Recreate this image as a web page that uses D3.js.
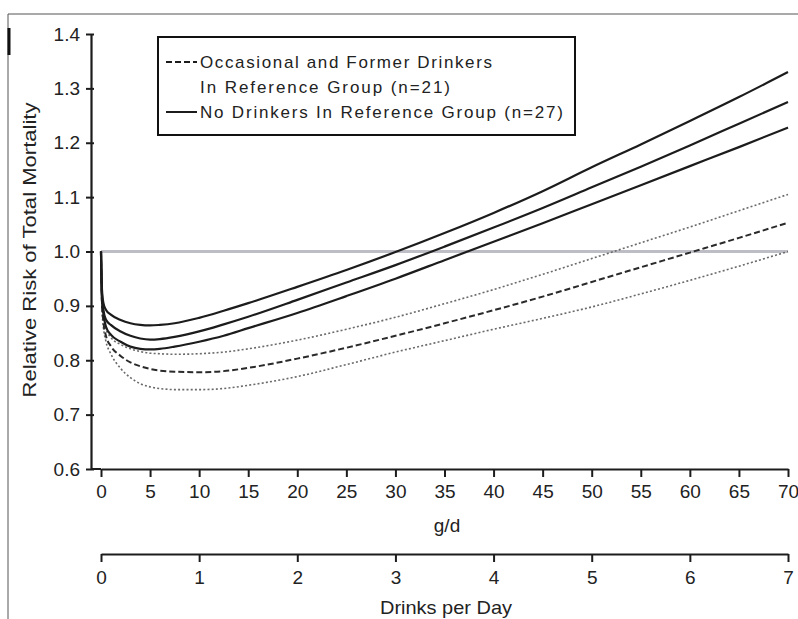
<!DOCTYPE html>
<html>
<head>
<meta charset="utf-8">
<script src="https://cdn.jsdelivr.net/npm/d3@7"></script>
<style>
  body { margin: 0; background: #fff; }
  svg { display: block; font-family: "Liberation Sans", Arial, sans-serif; }
</style>
</head>
<body>
<svg id="chart" width="798" height="619"></svg>
<script>
// alcohol dose (g/d) at which the curves were read
var doses = [0, 0.1, 0.25, 0.5, 1, 2, 3, 4, 5, 6, 7.5, 10, 12.5, 15, 20, 25, 30, 35, 40, 45, 50, 55, 60, 65, 70];

// no drinkers in reference group: estimate with upper / lower bounds
var noneUpper = [1.0, 0.93, 0.905, 0.893, 0.884, 0.874, 0.868, 0.865, 0.864, 0.865, 0.868, 0.878, 0.891, 0.905, 0.935, 0.966, 0.999, 1.034, 1.071, 1.111, 1.155, 1.197, 1.240, 1.284, 1.330];
var noneRR    = [1.0, 0.92, 0.892, 0.875, 0.865, 0.853, 0.845, 0.840, 0.838, 0.839, 0.843, 0.853, 0.866, 0.880, 0.911, 0.943, 0.975, 1.009, 1.044, 1.080, 1.118, 1.156, 1.195, 1.235, 1.275];
var noneLower = [1.0, 0.91, 0.885, 0.862, 0.847, 0.834, 0.825, 0.821, 0.820, 0.821, 0.825, 0.834, 0.845, 0.859, 0.887, 0.918, 0.950, 0.984, 1.018, 1.052, 1.087, 1.122, 1.157, 1.192, 1.228];

// occasional and former drinkers in reference group
var occUpper = [1.0, 0.91, 0.878, 0.858, 0.842, 0.829, 0.821, 0.816, 0.813, 0.812, 0.811, 0.812, 0.815, 0.821, 0.837, 0.857, 0.879, 0.904, 0.930, 0.958, 0.987, 1.016, 1.045, 1.075, 1.105];
var occRR    = [1.0, 0.905, 0.870, 0.845, 0.826, 0.808, 0.796, 0.789, 0.784, 0.781, 0.779, 0.778, 0.780, 0.786, 0.803, 0.823, 0.845, 0.868, 0.892, 0.917, 0.944, 0.971, 0.998, 1.025, 1.053];
var occLower = [1.0, 0.895, 0.860, 0.835, 0.812, 0.785, 0.768, 0.757, 0.751, 0.748, 0.746, 0.746, 0.748, 0.754, 0.770, 0.792, 0.815, 0.836, 0.857, 0.877, 0.898, 0.922, 0.947, 0.973, 1.0];

var yTicks = [0.6, 0.7, 0.8, 0.9, 1.0, 1.1, 1.2, 1.3, 1.4];
var gTicks = [0, 5, 10, 15, 20, 25, 30, 35, 40, 45, 50, 55, 60, 65, 70];
var drinkTicks = [0, 1, 2, 3, 4, 5, 6, 7];
var legendLines = ["Occasional and Former Drinkers", "In Reference Group (n=21)", "No Drinkers In Reference Group (n=27)"];

(function () {
  "use strict";
  var svg = d3.select("#chart");
  var ink = "#1c1c1c";

  var x = d3.scaleLinear().domain([0, 70]).range([101, 788]);
  var xd = d3.scaleLinear().domain([0, 7]).range([101, 788]);
  var y = d3.scaleLinear().domain([0.6, 1.4]).range([469, 34]);
  var axisX = 91;

  // scan frame
  svg.append("line").attr("x1", 8).attr("x2", 798).attr("y1", 14).attr("y2", 14)
    .attr("stroke", "#555").attr("stroke-width", 1);
  svg.append("line").attr("x1", 8).attr("x2", 8).attr("y1", 14).attr("y2", 619)
    .attr("stroke", "#555").attr("stroke-width", 1);
  svg.append("line").attr("x1", 9).attr("x2", 9).attr("y1", 28).attr("y2", 55)
    .attr("stroke", "#111").attr("stroke-width", 3);

  // reference line at RR = 1
  svg.append("line").attr("x1", x(0)).attr("x2", x(70)).attr("y1", y(1)).attr("y2", y(1))
    .attr("stroke", "#bdbdc5").attr("stroke-width", 3);

  // curves
  var series = [
    { v: occLower, stroke: "#6a6a6a", w: 1.6, dash: "2 2.2" },
    { v: occUpper, stroke: "#6a6a6a", w: 1.6, dash: "2 2.2" },
    { v: occRR, stroke: "#2a2a2a", w: 2, dash: "6 3" },
    { v: noneLower, stroke: ink, w: 2.2, dash: null },
    { v: noneRR, stroke: ink, w: 2.2, dash: null },
    { v: noneUpper, stroke: ink, w: 2.2, dash: null }
  ];
  var line = d3.line().x(function (d) { return x(d[0]); }).y(function (d) { return y(d[1]); })
    .curve(d3.curveMonotoneX);
  series.forEach(function (s) {
    svg.append("path").attr("d", line(d3.zip(doses, s.v)))
      .attr("fill", "none").attr("stroke", s.stroke).attr("stroke-width", s.w)
      .attr("stroke-dasharray", s.dash);
  });

  // y axis
  var gy = svg.append("g").attr("transform", "translate(" + axisX + ",0)")
    .call(d3.axisLeft(y).tickValues(yTicks).tickFormat(d3.format(".1f"))
      .tickSize(5).tickSizeOuter(0).tickPadding(6));
  gy.select(".domain").attr("stroke", ink).attr("stroke-width", 2.2);
  gy.selectAll(".tick line").attr("x1", 3).attr("stroke", ink).attr("stroke-width", 2);
  gy.selectAll("text").style("font-size", "19px").attr("fill", "#222").attr("font-family", null);

  svg.append("text").attr("transform", "translate(36,250) rotate(-90)")
    .attr("text-anchor", "middle").style("font-size", "19px").attr("fill", "#222")
    .attr("textLength", 295).attr("lengthAdjust", "spacingAndGlyphs")
    .text("Relative Risk of Total Mortality");

  // g/d axis
  svg.append("line").attr("x1", axisX).attr("x2", x(0)).attr("y1", y(0.6)).attr("y2", y(0.6))
    .attr("stroke", ink).attr("stroke-width", 2);
  var gx = svg.append("g").attr("transform", "translate(0," + y(0.6) + ")")
    .call(d3.axisBottom(x).tickValues(gTicks).tickFormat(d3.format("d"))
      .tickSize(8).tickSizeOuter(0).tickPadding(8));
  gx.select(".domain").attr("stroke", ink).attr("stroke-width", 2);
  gx.selectAll(".tick line").attr("stroke", ink).attr("stroke-width", 2);
  gx.selectAll("text").style("font-size", "19px").attr("fill", "#222").attr("font-family", null);
  svg.append("text").attr("x", 447).attr("y", 532).attr("text-anchor", "middle")
    .style("font-size", "19px").attr("fill", "#222").text("g/d");

  // drinks per day axis
  var gd = svg.append("g").attr("transform", "translate(0,554)")
    .call(d3.axisBottom(xd).tickValues(drinkTicks).tickFormat(d3.format("d"))
      .tickSize(8).tickSizeOuter(0).tickPadding(9));
  gd.select(".domain").attr("stroke", ink).attr("stroke-width", 2);
  gd.selectAll(".tick line").attr("stroke", ink).attr("stroke-width", 2);
  gd.selectAll("text").style("font-size", "19px").attr("fill", "#222").attr("font-family", null);
  svg.append("text").attr("x", 446).attr("y", 614).attr("text-anchor", "middle")
    .style("font-size", "19px").attr("fill", "#222")
    .attr("textLength", 132).attr("lengthAdjust", "spacingAndGlyphs")
    .text("Drinks per Day");

  // legend
  svg.append("rect").attr("x", 158).attr("y", 37).attr("width", 417).attr("height", 98)
    .attr("fill", "#fff").attr("stroke", "#111").attr("stroke-width", 2);
  svg.append("line").attr("x1", 166).attr("x2", 197).attr("y1", 62).attr("y2", 62)
    .attr("stroke", ink).attr("stroke-width", 2).attr("stroke-dasharray", "6 3");
  svg.append("line").attr("x1", 166).attr("x2", 197).attr("y1", 112).attr("y2", 112)
    .attr("stroke", ink).attr("stroke-width", 2);
  var lens = [292, 250, 363], bases = [68, 93, 118];
  legendLines.forEach(function (t, i) {
    svg.append("text").attr("x", 200).attr("y", bases[i])
      .style("font-size", "17px").attr("fill", "#222")
      .attr("textLength", lens[i]).attr("lengthAdjust", "spacing")
      .text(t);
  });
})();
</script>
</body>
</html>
